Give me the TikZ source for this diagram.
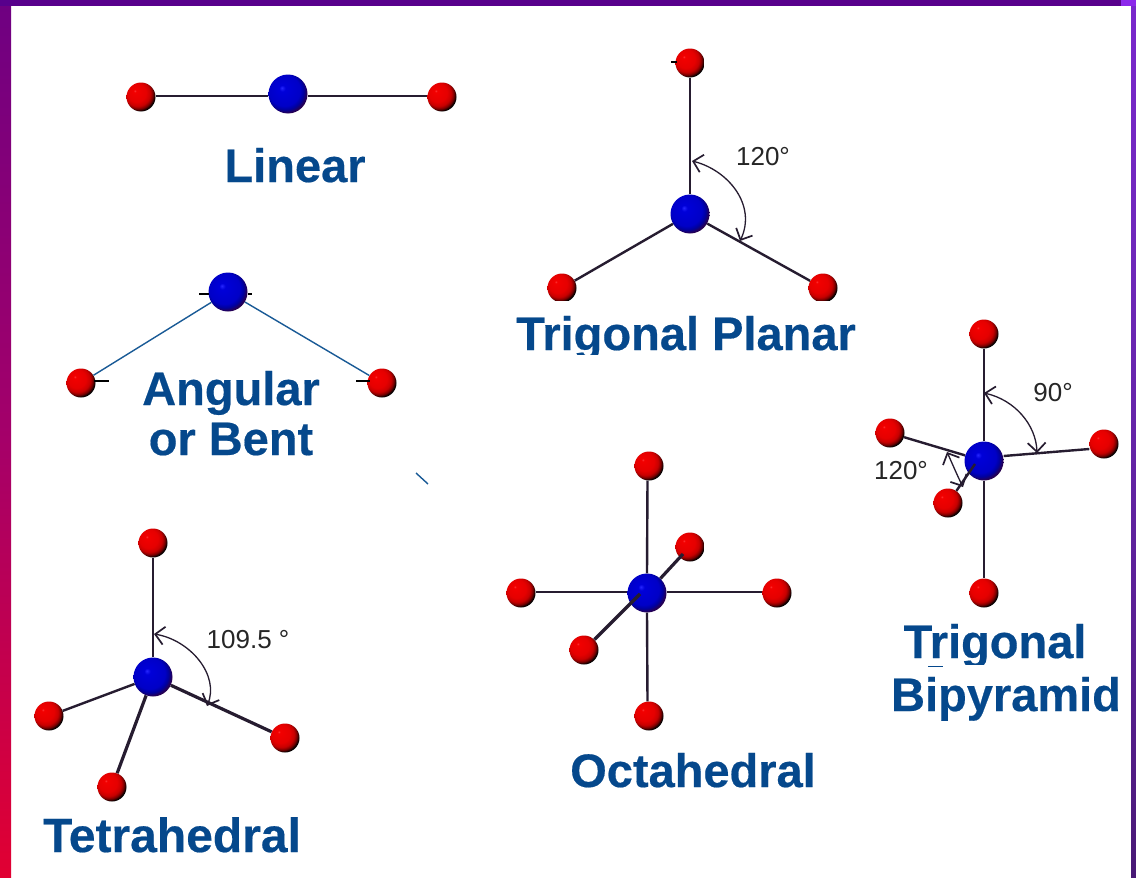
\documentclass[tikz,border=0pt]{standalone}
\usepackage{fontspec}
\setmainfont{Liberation Sans}
\newfontfamily\titlefont[FakeBold=0.4]{Liberation Sans Bold}
\usetikzlibrary{arrows.meta,calc}
\definecolor{titleblue}{RGB}{5,72,140}
\definecolor{bondblue}{RGB}{25,90,150}
\definecolor{bonddark}{RGB}{38,28,48}
\definecolor{topstrip}{RGB}{88,0,140}
\definecolor{cornerstrip}{RGB}{140,40,235}
\definecolor{lsa}{RGB}{255,0,20}
\definecolor{lsb}{RGB}{225,0,50}
\definecolor{lsc}{RGB}{165,0,105}
\definecolor{lsd}{RGB}{110,0,130}
\definecolor{lse}{RGB}{70,0,140}
\definecolor{rsa}{RGB}{30,8,50}
\definecolor{rsb}{RGB}{80,28,130}
\definecolor{rsc}{RGB}{110,40,185}
\definecolor{rsd}{RGB}{140,40,235}
\definecolor{bluedark}{RGB}{40,0,80}
\pgfdeclareradialshading{redball}{\pgfpoint{-11bp}{11bp}}{%
 color(0bp)=(red!75!white); color(2bp)=(red!95!black); color(16bp)=(red!90!black);
 color(22bp)=(red!78!black); color(26bp)=(red!45!black); color(29bp)=(black); color(50bp)=(black)}
\pgfdeclareradialshading{blueball}{\pgfpoint{-8bp}{8bp}}{%
 color(0bp)=(blue!85!white); color(4bp)=(blue!85!black); color(20bp)=(blue!78!black);
 color(24bp)=(blue!62!black); color(28bp)=(bluedark); color(50bp)=(black)}
\pgfdeclareverticalshading{leftstrip}{100bp}{%
 color(0bp)=(lsa); color(25bp)=(lsb); color(50bp)=(lsc); color(75bp)=(lsd); color(100bp)=(lse)}
\pgfdeclareverticalshading{rightstrip}{100bp}{%
 color(0bp)=(rsa); color(30bp)=(rsb); color(60bp)=(rsc); color(100bp)=(rsd)}
\tikzset{
 redatom/.style={circle,inner sep=0pt,minimum size=29pt,shading=redball},
 blueatom/.style={circle,inner sep=0pt,minimum size=39pt,shading=blueball},
 bond/.style={draw=bonddark,line width=2.4pt},
 thickbond/.style={draw=bonddark,line width=3.2pt},
 thinbond/.style={draw=bondblue,line width=1.4pt},
 stub/.style={draw=black,line width=1.5pt},
 anglearc/.style={draw=bonddark,line width=1.3pt,{Straight Barb[length=9pt,width=18pt,line width=1.7pt]}-{Straight Barb[length=9pt,width=18pt,line width=1.7pt]}},
 title/.style={font=\titlefont\fontsize{47}{47}\selectfont,text=titleblue,inner sep=0pt,anchor=base},
 anglelabel/.style={font=\fontsize{26}{26}\selectfont,text=black!85,inner sep=0pt},
}
\begin{document}
\begin{tikzpicture}[x=1pt,y=-1pt]
\useasboundingbox (0,0) rectangle (1136,878);
% frame
\fill[white] (0,0) rectangle (1136,878);
\shade[shading=leftstrip] (0,0) rectangle (11,878);
\fill[topstrip] (0,0) rectangle (1121,6);
\fill[cornerstrip] (1121,0) rectangle (1136,6);
\shade[shading=rightstrip] (1131,6) rectangle (1136,878);

% Linear
\node[blueatom] (la) at (288,94) {};
\node[redatom] (lb) at (141,97) {};
\node[redatom] (lc) at (442,97) {};
\draw[bond] ([yshift=1pt]lb.east) -- ([yshift=-2pt]la.west);
\draw[bond] ([yshift=-2pt]la.east) -- ([yshift=1pt]lc.west);
\node[title] (lt) at (295,182) {Linear};

% Angular
\node[blueatom] (aa) at (228,292) {};
\node[redatom] (ab) at (81,383) {};
\node[redatom] (ac) at (382,383) {};
\draw[thinbond] (ab) -- (aa);
\draw[thinbond] (aa) -- (ac);
\coordinate (as1) at (199,294); \coordinate (as2) at (209,294);
\coordinate (as3) at (248,294); \coordinate (as4) at (252,294);
\coordinate (as5) at (94,381); \coordinate (as6) at (109,381);
\coordinate (as7) at (356,381); \coordinate (as8) at (370,381);
\draw[stub] (as1) -- (as2);
\draw[stub] (as3) -- (as4);
\draw[stub] (as5) -- (as6);
\draw[stub] (as7) -- (as8);
\node[title] (at1) at (231,405) {Angular};
\node[title] (at2) at (231,455) {or Bent};
\coordinate (tick1) at (416,473); \coordinate (tick2) at (428,484);
\draw[thinbond] (tick1) -- (tick2);

% Trigonal planar
\node[blueatom] (pa) at (690,214) {};
\node[redatom] (pb) at (690,63) {};
\node[redatom] (pc) at (562,288) {};
\node[redatom] (pd) at (823,288) {};
\draw[bond] (pa) -- (pb);
\draw[bond] (pa) -- (pc);
\draw[bond] (pa) -- (pd);
\coordinate (ps1) at (671,62); \coordinate (ps2) at (677,62);
\draw[stub] (ps1) -- (ps2);
\coordinate (pa1) at (692,161); \coordinate (pa2) at (740,241);
\draw[anglearc] (pa1) .. controls (728,170) and (757,205) .. (pa2);
\node[anglelabel] (pl) at (763,157) {120°};
\fill[white] (540,300.5) rectangle (850,312);
\node[title] (pt) at (686,350) {Trigonal Planar};
\fill[white] (510,355) rectangle (860,366);

% Trigonal bipyramid
\node[blueatom] (ba) at (984,461) {};
\node[redatom] (bb) at (984,334) {};
\node[redatom] (bc) at (984,593) {};
\node[redatom] (bd) at (890,433) {};
\node[redatom] (be) at (1104,444) {};
\node[redatom] (bf) at (948,503) {};
\draw[bond] (ba) -- (bb);
\draw[bond] (ba) -- (bc);
\draw[bond] (ba) -- (bd);
\draw[bond] ([yshift=5pt]ba.east) -- ([yshift=-5pt]be.west);
\coordinate (bj) at (975,464);
\draw[bond] (bj) -- (bf);
\coordinate (ba1) at (984,393); \coordinate (ba2) at (1037,453);
\draw[anglearc] (ba1) .. controls (1015,400) and (1036,425) .. (ba2);
\node[anglelabel] (bl1) at (1053,393) {90°};
\coordinate (ba3) at (947,452); \coordinate (ba4) at (963,487);
\draw[anglearc] (ba3) .. controls (952,463) and (957,475) .. (ba4);
\node[anglelabel] (bl2) at (901,471) {120°};
\node[title] (bt1) at (995,658) {Trigonal};
\fill[white] (900,665) rectangle (1090,673);
\coordinate (bs1) at (928,666.5); \coordinate (bs2) at (943,666.5);
\draw[thinbond,draw=titleblue] (bs1) -- (bs2);
\node[title] (bt2) at (1006,711) {Bipyramid};

% Octahedral
\node[blueatom] (oa) at (647,593) {};
\node[redatom] (ob) at (649,466) {};
\node[redatom] (oc) at (649,716) {};
\node[redatom] (od) at (521,593) {};
\node[redatom] (oe) at (777,593) {};
\node[redatom] (of) at (690,547) {};
\node[redatom] (og) at (584,650) {};
\draw[bond] ([xshift=-1.5pt]ob.south) -- (oa.north);
\draw[bond] ([xshift=-1.5pt]oc.north) -- (oa.south);
\draw[bond] ([yshift=1pt]od.east) -- ([yshift=1pt]oa.west);
\draw[bond] ([yshift=1pt]oa.east) -- ([yshift=1pt]oe.west);
\coordinate (oj) at (640,594);
\coordinate (ok) at (683,554);
\draw[thickbond] (oa) -- (ok);
\draw[thickbond] (oj) -- (og);
\node[title] (ot) at (693,787) {Octahedral};

% Tetrahedral
\node[blueatom] (ta) at (153,677) {};
\node[redatom] (tb) at (153,543) {};
\node[redatom] (tc) at (49,716) {};
\node[redatom] (td) at (112,787) {};
\node[redatom] (te) at (285,738) {};
\draw[bond] (ta) -- (tb);
\draw[bond] (ta) -- (tc);
\draw[thickbond] (ta) -- (td);
\draw[thickbond] (ta) -- (te);
\coordinate (ta1) at (154,634); \coordinate (ta2) at (207,706);
\draw[anglearc] (ta1) .. controls (190,640) and (220,675) .. (ta2);
\node[anglelabel] (tl) at (248,640) {109.5 °};
\node[title,font=\titlefont\fontsize{48}{48}\selectfont] (tt) at (172,852) {Tetrahedral};
\end{tikzpicture}
\end{document}
